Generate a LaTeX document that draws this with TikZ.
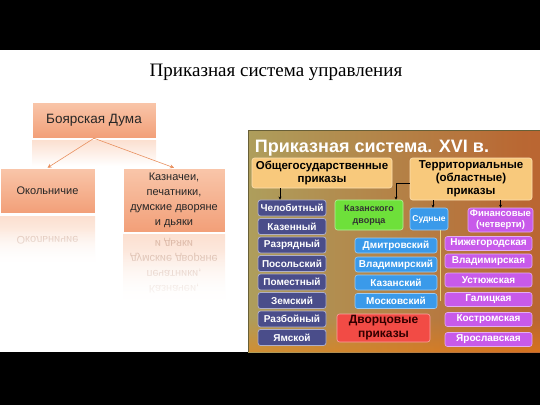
\documentclass[tikz,border=0pt]{standalone}
\usepackage{fontspec}
\setmainfont{Liberation Serif}
\newfontfamily\caixa{Liberation Sans}
\usetikzlibrary{arrows.meta,fadings}
\definecolor{dumaTop}{HTML}{F9C6AA}
\definecolor{dumaBot}{HTML}{F29F78}
\definecolor{setaCor}{HTML}{E8905F}
\definecolor{panL}{HTML}{AE9E5C}
\definecolor{panM}{HTML}{E6CB72}
\definecolor{panR}{HTML}{BA6632}
\definecolor{amarelo}{HTML}{F8C97C}
\definecolor{ardosia}{HTML}{4A4D8A}
\definecolor{azul}{HTML}{3A9AEA}
\definecolor{roxo}{HTML}{C85AEA}
\definecolor{verde}{HTML}{6EE03A}
\definecolor{vermelho}{HTML}{F24B45}
\tikzset{
  caixaDuma/.style={draw=white, line width=0.5pt, top color=dumaTop, bottom color=dumaBot, inner sep=0pt, align=center, text=black!85, font=\caixa\fontsize{11}{15}\selectfont},
  reflexo/.style={top color=dumaTop!55!white, bottom color=white, draw=none},
  textoRef/.style={yscale=-1, transform shape, align=center, text=dumaBot!55!gray, opacity=.5, font=\caixa\fontsize{11}{15}\selectfont},
  ligacao/.style={-{Stealth[length=4pt,width=4pt]}, draw=setaCor, line width=0.6pt},
  bloco/.style={rounded corners=2.5pt, inner sep=0pt, align=center, font=\caixa\bfseries\fontsize{10}{12}\selectfont},
  geral/.style={bloco, fill=ardosia, draw=ardosia!45!white, line width=0.8pt, text=white, minimum width=68pt, minimum height=16pt},
  cidade/.style={bloco, fill=azul, draw=azul!50!white, line width=0.6pt, text=white, minimum width=82pt, minimum height=15pt},
  cheti/.style={bloco, fill=roxo, draw=roxo!50!white, line width=0.6pt, text=white, minimum width=87pt, minimum height=14pt},
  grupo/.style={bloco, fill=amarelo, draw=amarelo!60!white, line width=0.6pt, font=\caixa\bfseries\fontsize{11.5}{13.5}\selectfont},
  seta/.style={-{Stealth[length=3pt,width=3pt]}, line width=0.6pt, black}
}
\begin{document}
\begin{tikzpicture}[x=1pt,y=-1pt] %Escala em pixels
\useasboundingbox (0,0) rectangle (540,405);
	%Faixas pretas
\fill[black] (0,0) rectangle (540,50);
\fill[black] (0,352) rectangle (540,405);
	%Titulo
\node[font=\fontsize{19}{22}\selectfont] (titulo) at (276,72) {Приказная система управления};
	%Reflexos
\fill[reflexo] (32,140) rectangle (156,166);
\fill[reflexo] (0,216) rectangle (95,262);
\fill[reflexo] (123,234) rectangle (225,300);
\node[textoRef] at (47.5,240) {Окольничие};
\node[textoRef] at (174,266) {Казначеи,\\печатники,\\думские дворяне\\и дьяки};
\fill[white, path fading=north] (0,228) rectangle (100,266);
\fill[white, path fading=north] (118,250) rectangle (230,304);
	%Caixas da esquerda
\node[caixaDuma, minimum width=124pt, minimum height=36pt, font=\caixa\fontsize{13.5}{16}\selectfont] (duma) at (94,120) {Боярская Дума};
\node[caixaDuma, minimum width=95pt, minimum height=45pt] (okol) at (47.5,190.5) {Окольничие};
\node[caixaDuma, minimum width=102pt, minimum height=64pt] (kazn) at (174,200) {Казначеи,\\печатники,\\думские дворяне\\и дьяки};
\draw[ligacao] (duma.south) -- (okol.north);
\draw[ligacao] (duma.south) -- (kazn.north);
	%Quadro da direita
\shade[left color=panL, middle color=panM, right color=panR] (248,130) rectangle (540,352);
\fill[panR, opacity=.6, path fading=west] (480,130) rectangle (540,352);
\fill[orange!80!brown, opacity=.5, path fading=north] (248,318) rectangle (540,352);
\draw[panL!60!black, line width=0.6pt] (248,352) -- (248,130) -- (540,130);
\node[text=white, font=\caixa\bfseries\fontsize{18}{20}\selectfont] (titulo2) at (372,148) {Приказная система. XVI в.};
\node[grupo, minimum width=140pt, minimum height=30pt] (gos) at (322,173) {Общегосударственные\\приказы};
\node[grupo, minimum width=122pt, minimum height=42pt, font=\caixa\bfseries\fontsize{11.5}{13}\selectfont] (terr) at (471,179) {Территориальные\\(областные)\\приказы};
	%Общегосударственные
\node[geral] (chelob) at (292,208) {Челобитный};
\node[geral] (kazen) at (292,226.5) {Казенный};
\node[geral] (razr) at (292,245) {Разрядный};
\node[geral] (posol) at (292,263.5) {Посольский};
\node[geral] (pomest) at (292,282) {Поместный};
\node[geral] (zemsk) at (292,300.5) {Земский};
\node[geral] (razb) at (292,319) {Разбойный};
\node[geral] (yamsk) at (292,337.5) {Ямской};
	%Территориальные
\node[bloco, fill=verde, draw=verde!50!white, line width=0.6pt, text=black!80, minimum width=68pt, minimum height=30pt, font=\caixa\bfseries\fontsize{9}{12}\selectfont] (kazdv) at (369,215) {Казанского\\дворца};
\node[bloco, fill=azul, draw=azul!50!white, line width=0.6pt, text=white, minimum width=38pt, minimum height=22pt, font=\caixa\bfseries\fontsize{8.5}{10}\selectfont] (sud) at (429,219) {Судные};
\node[bloco, fill=roxo, draw=roxo!50!white, line width=0.6pt, text=white, minimum width=65pt, minimum height=24pt, font=\caixa\bfseries\fontsize{9.5}{11}\selectfont] (fin) at (500.5,220) {Финансовые\\(четверти)};
\node[cidade] (dmitr) at (396,245.5) {Дмитровский};
\node[cidade] (vladim) at (396,264.5) {Владимирский};
\node[cidade] (kazan) at (396,282.5) {Казанский};
\node[cidade] (moskov) at (396,301) {Московский};
\node[bloco, fill=vermelho, draw=vermelho!50!white, line width=0.6pt, text=black!80!red, minimum width=93pt, minimum height=28pt, font=\caixa\bfseries\fontsize{12}{14}\selectfont] (dvor) at (383.5,328) {Дворцовые\\приказы};
\node[cheti] (nizh) at (488.5,243.5) {Нижегородская};
\node[cheti] (vladch) at (488.5,261) {Владимирская};
\node[cheti] (ustyu) at (488.5,280) {Устюжская};
\node[cheti] (galic) at (488.5,299.5) {Галицкая};
\node[cheti] (kostr) at (488.5,319.5) {Костромская};
\node[cheti] (yarosl) at (488.5,339.5) {Ярославская};
	%Setas
\draw[seta] ([xshift=-12pt]chelob.north |- gos.south) -- ([xshift=-12pt]chelob.north);
\draw[seta] (terr.west |- 0,183) -| ([xshift=27pt]kazdv.north);
\draw[seta] ([xshift=4pt]sud.north |- terr.south) -- ([xshift=4pt]sud.north);
\draw[seta] (fin.north |- terr.south) -- (fin.north);
\draw[white!60!yellow, opacity=.7, line width=0.5pt] ([xshift=3pt]dmitr.east |- sud.south) -- ([xshift=3pt]moskov.east);
\end{tikzpicture}
\end{document}
